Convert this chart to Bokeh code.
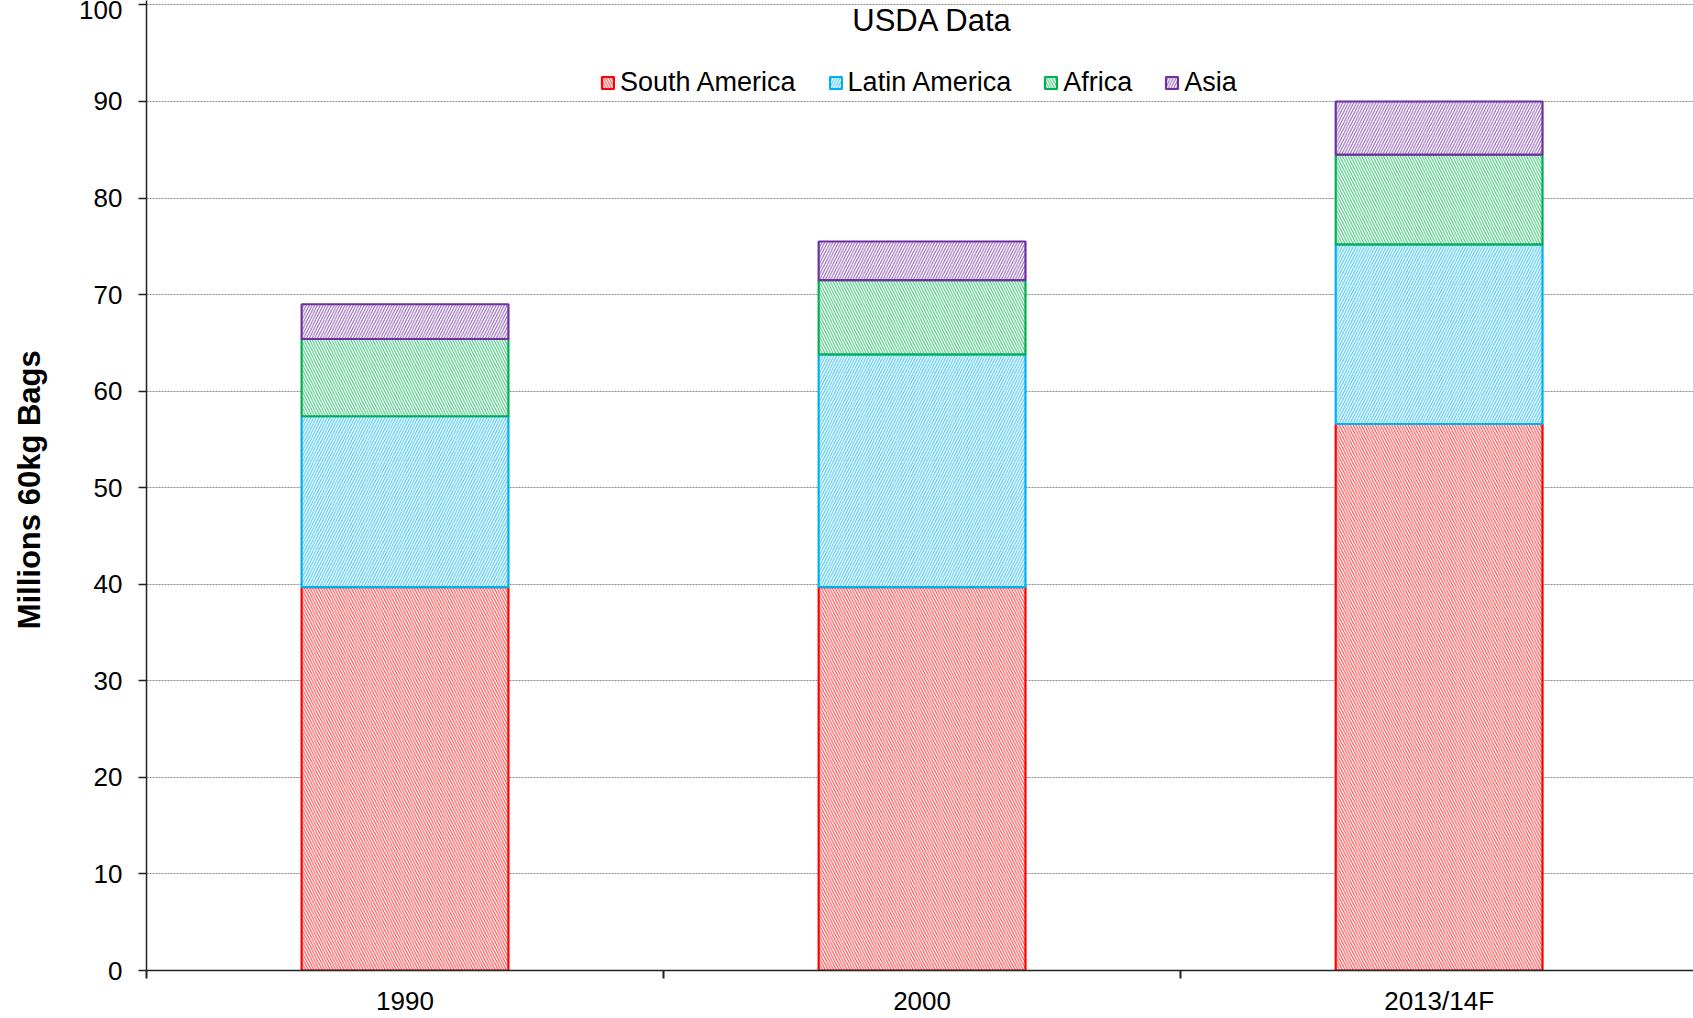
from bokeh.plotting import figure
from bokeh.models import Range1d, FixedTicker, Legend, Label
from bokeh.embed import file_html
from bokeh.resources import INLINE

# ---- data ----
years = ["1990", "2000", "2013/14F"]
south_america = [39.7, 39.7, 56.6]
latin_america = [17.7, 24.1, 18.6]
africa = [8.0, 7.7, 9.3]
asia = [3.6, 4.0, 5.5]
series = ["South America", "Latin America", "Africa", "Asia"]
y_ticks = list(range(0, 101, 10))

colors = ["#FF0000", "#00B0F0", "#00B050", "#7030A0"]
hatches = ["left_diagonal_line", "right_diagonal_line", "left_diagonal_line", "right_diagonal_line"]

xpos = [i + 0.5 for i in range(len(years))]
stack = [south_america, latin_america, africa, asia]

W, H = 1693, 1018
p = figure(width=W, height=H, output_backend="svg", toolbar_location=None,
           x_range=Range1d(0, 2.992), y_range=Range1d(0, 100.46),
           min_border_left=146, min_border_right=0, min_border_top=0, min_border_bottom=45)
p.outline_line_color = None
p.background_fill_color = "white"

items = []
bottom = [0.0] * len(years)
for vals, name, c, h in zip(stack, series, colors, hatches):
    top = [b + v for b, v in zip(bottom, vals)]
    r = p.vbar(x=xpos, bottom=bottom, top=top, width=0.4,
               fill_color="white", line_color=c, line_width=2.2,
               hatch_pattern=h, hatch_color=c, hatch_scale=5.5, hatch_weight=1,
               hatch_alpha=0.8)
    items.append((name, [r]))
    bottom = top

# y axis
p.yaxis.ticker = FixedTicker(ticks=y_ticks)
p.yaxis.major_tick_out = 8
p.yaxis.major_tick_in = 0
p.yaxis.minor_tick_line_color = None
p.yaxis.axis_line_color = "#222222"
p.yaxis.axis_line_width = 1.5
p.yaxis.major_tick_line_color = "#222222"
p.yaxis.major_tick_line_width = 1.5
p.yaxis.major_label_text_font = "Liberation Sans"
p.yaxis.major_label_text_font_size = "26px"
p.yaxis.major_label_text_color = "#000000"
p.yaxis.major_label_standoff = 16
p.yaxis.axis_label = "Millions  60kg Bags"
p.yaxis.axis_label_text_font = "Liberation Sans"
p.yaxis.axis_label_text_font_style = "bold"
p.yaxis.axis_label_text_font_size = "31px"
p.yaxis.axis_label_text_color = "#000000"
p.yaxis.axis_label_standoff = 29

# x axis: labels at category centres, tick marks at category boundaries
p.xaxis.ticker = FixedTicker(ticks=xpos, minor_ticks=[0, 1, 2, 3])
p.xaxis.major_label_overrides = {x: y for x, y in zip(xpos, years)}
p.xaxis.major_tick_line_color = None
p.xaxis.major_tick_out = 8
p.xaxis.minor_tick_out = 8
p.xaxis.minor_tick_in = 0
p.xaxis.minor_tick_line_color = "#222222"
p.xaxis.minor_tick_line_width = 2
p.xaxis.axis_line_color = "#222222"
p.xaxis.axis_line_width = 1.5
p.xaxis.major_label_text_font = "Liberation Sans"
p.xaxis.major_label_text_font_size = "26px"
p.xaxis.major_label_text_color = "#000000"
p.xaxis.major_label_standoff = 7

p.xgrid.grid_line_color = None
p.ygrid.grid_line_color = "#8C8C8C"
p.ygrid.grid_line_dash = "2 1"
p.ygrid.grid_line_width = 1

# title inside plot area
title = Label(x=1.52, y=98.34, text="USDA Data", text_align="center", text_baseline="middle",
              text_font="Liberation Sans", text_font_size="31px", text_color="#000000")
p.add_layout(title)

legend = Legend(items=items, orientation="horizontal", location=(454, 872),
                label_text_font="Liberation Sans", label_text_font_size="27px",
                label_text_color="#000000", glyph_width=15, glyph_height=15,
                label_standoff=5, spacing=32, padding=0, margin=0,
                border_line_color=None, background_fill_alpha=0)
p.add_layout(legend, "center")

open("out.html", "w").write(file_html(p, INLINE))
